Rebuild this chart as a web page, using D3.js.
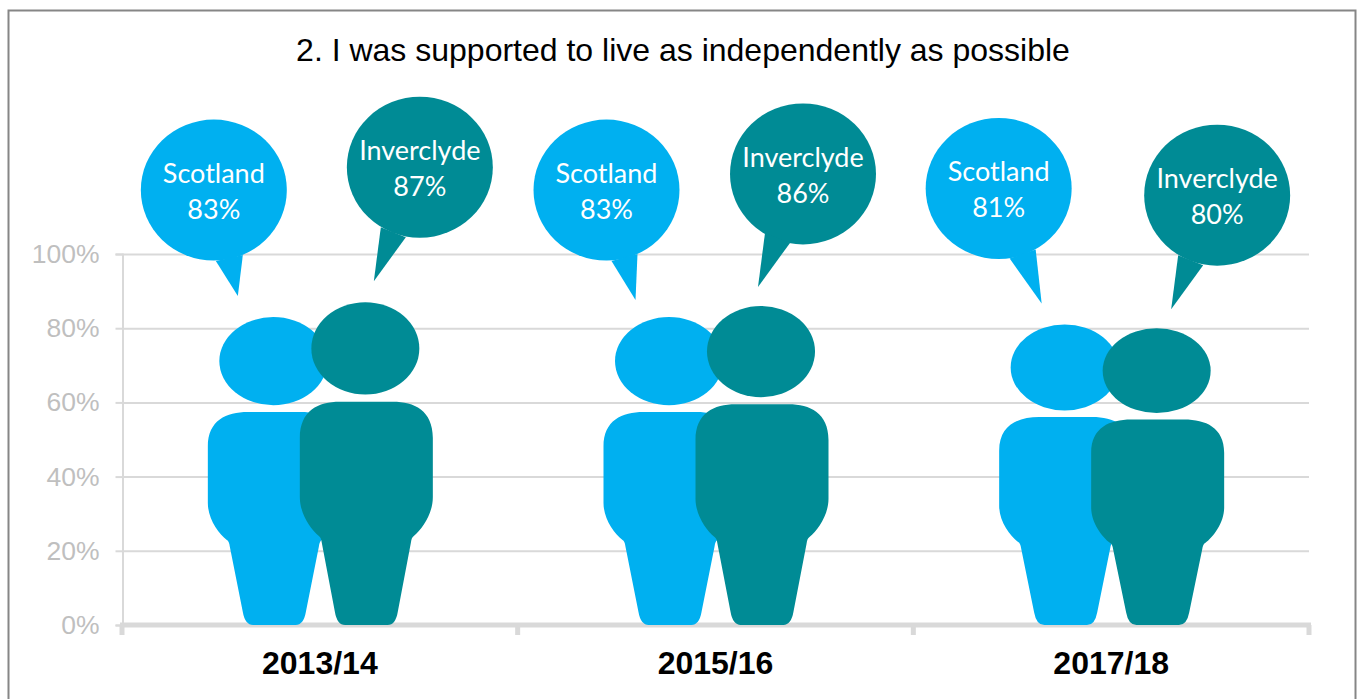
<!DOCTYPE html>
<html>
<head>
<meta charset="utf-8">
<script src="https://cdn.jsdelivr.net/npm/d3@7/dist/d3.min.js"></script>
<style>
  html, body { margin: 0; padding: 0; background: #fff; overflow: hidden; }
  svg { display: block; }
  text { font-family: "Liberation Sans", Arial, sans-serif; }
  .bubble-label { font-family: "Lato", sans-serif; fill: #fff; font-size: 27px; text-anchor: middle; }
</style>
</head>
<body>
<svg id="chart" width="1359" height="699"></svg>
<script>
// Survey results by period
const title = "2. I was supported to live as independently as possible";
const years = ["2013/14", "2015/16", "2017/18"];
const seriesNames = ["Scotland", "Inverclyde"];
const scotland = [83, 83, 81];
const inverclyde = [87, 86, 80];
const yTicks = [0, 20, 40, 60, 80, 100];

const colours = { Scotland: "#00B0F0", Inverclyde: "#008B95" };
const gridColour = "#d9d9d9";

// Frame and plot area
const plot = { left: 122, right: 1309, top: 254, bottom: 625 };
const figureHalfWidth = 66.5;
const figureOffset = 46;

const x = d3.scaleBand().domain(years).range([plot.left, plot.right]);
const y = d3.scaleLinear().domain([0, 100]).range([plot.bottom, plot.top]);
const side = d3.scaleOrdinal().domain(seriesNames).range([-figureOffset, figureOffset]);

const svg = d3.select("#chart");

svg.append("rect")
  .attr("x", 8.5).attr("y", 10.5).attr("width", 1347).attr("height", 720)
  .attr("fill", "#fff").attr("stroke", "#868686").attr("stroke-width", 2);

svg.append("text")
  .attr("x", 683).attr("y", 61)
  .attr("text-anchor", "middle").attr("font-size", 32).attr("fill", "#000")
  .text(title);

// Value axis with gridlines running across the plot
const yAxis = svg.append("g")
  .attr("transform", `translate(${plot.left + 0.5},0)`)
  .call(d3.axisLeft(y).tickValues(yTicks).tickFormat(d => d + "%").tickSize(7).tickPadding(16));
yAxis.selectAll("line").attr("stroke", gridColour).attr("stroke-width", 2);
yAxis.select(".domain").attr("stroke", gridColour).attr("stroke-width", 2);
yAxis.selectAll("text")
  .attr("fill", "#bfbfbf").attr("font-size", 26.5)
  .style("font-family", '"Liberation Sans", Arial, sans-serif');

svg.append("g").selectAll("line")
  .data(yTicks.filter(d => d > 0))
  .join("line")
  .attr("x1", plot.left).attr("x2", plot.right)
  .attr("y1", d => y(d) + 0.5).attr("y2", d => y(d) + 0.5)
  .attr("stroke", gridColour).attr("stroke-width", 2);

// Category axis: heavy baseline, ticks on the band edges
const edges = years.map(d => x(d)).concat(plot.right);
svg.append("line")
  .attr("x1", plot.left - 2).attr("x2", plot.right + 2)
  .attr("y1", y(0)).attr("y2", y(0))
  .attr("stroke", gridColour).attr("stroke-width", 5);
svg.append("g").selectAll("line")
  .data(edges)
  .join("line")
  .attr("x1", d => d).attr("x2", d => d)
  .attr("y1", y(0)).attr("y2", y(0) + 10)
  .attr("stroke", gridColour).attr("stroke-width", 5);

const xAxis = svg.append("g")
  .attr("transform", `translate(0,${plot.bottom})`)
  .call(d3.axisBottom(x).tickSize(0).tickPadding(26));
xAxis.select(".domain").remove();
xAxis.selectAll("text")
  .attr("fill", "#000").attr("font-size", 32).attr("font-weight", "bold")
  .style("font-family", '"Liberation Sans", Arial, sans-serif');

// One standing figure; its height follows the value, its width is fixed.
// u runs from -1 to 1 across the shoulders, t from 0 (crown) to 1 (feet).
function figurePath(cx, value) {
  const u = d3.scaleLinear().domain([-1, 1]).range([cx - figureHalfWidth, cx + figureHalfWidth]);
  const t = d3.scaleLinear().domain([0, 1]).range([y(value), y(0)]);
  const p = d3.path();
  p.moveTo(u(-0.4), t(0.308));
  p.bezierCurveTo(u(-0.72), t(0.308), u(-1), t(0.335), u(-1), t(0.42));
  p.lineTo(u(-1), t(0.604));
  p.bezierCurveTo(u(-1), t(0.655), u(-0.84), t(0.703), u(-0.714), t(0.724));
  p.quadraticCurveTo(u(-0.68), t(0.728), u(-0.67), t(0.745));
  p.lineTo(u(-0.474), t(0.958));
  p.quadraticCurveTo(u(-0.44), t(1), u(-0.32), t(1));
  p.lineTo(u(0.32), t(1));
  p.quadraticCurveTo(u(0.44), t(1), u(0.474), t(0.958));
  p.lineTo(u(0.67), t(0.745));
  p.quadraticCurveTo(u(0.68), t(0.728), u(0.714), t(0.724));
  p.bezierCurveTo(u(0.84), t(0.703), u(1), t(0.655), u(1), t(0.604));
  p.lineTo(u(1), t(0.42));
  p.bezierCurveTo(u(1), t(0.335), u(0.72), t(0.308), u(0.4), t(0.308));
  p.closePath();
  return p.toString();
}

const records = seriesNames.flatMap((name, s) =>
  years.map((year, i) => ({
    name, year, i,
    value: (s === 0 ? scotland : inverclyde)[i],
    cx: x(year) + x.bandwidth() / 2 + side(name) + 0.5
  })));

const figures = svg.append("g").selectAll("g")
  .data(records)
  .join("g")
  .attr("fill", d => colours[d.name]);
figures.append("path").attr("d", d => figurePath(d.cx, d.value));
figures.append("ellipse")
  .attr("cx", d => d.cx - 1)
  .attr("cy", d => y(d.value) + 0.143 * (y(0) - y(d.value)))
  .attr("rx", 54)
  .attr("ry", d => 0.143 * (y(0) - y(d.value)));

// Speech bubbles: offset of each bubble from its figure, tail points relative to the bubble
const bubbleLayout = {
  Scotland: [
    { dx: -60.5, dy: -127, tail: [[2, 71], [24, 106], [29, 65]] },
    { dx: -63.5, dy: -127, tail: [[5, 71], [29, 110], [31, 64]] },
    { dx: -67, dy: -136, tail: [[11, 70], [43, 115], [37, 61]] }
  ],
  Inverclyde: [
    { dx: 53.5, dy: -135, tail: [[-39, 60], [-46, 114], [-14, 70]] },
    { dx: 41, dy: -132, tail: [[-38, 59], [-45, 113], [-13, 69]] },
    { dx: 59.5, dy: -133, tail: [[-39, 60], [-46, 114], [-14, 70]] }
  ]
};

const bubbles = svg.append("g").selectAll("g")
  .data(records)
  .join("g")
  .attr("fill", d => colours[d.name])
  .attr("transform", d => {
    const b = bubbleLayout[d.name][d.i];
    return `translate(${d.cx + b.dx},${y(d.value) + b.dy})`;
  });
bubbles.append("ellipse").attr("rx", 73).attr("ry", 70.5);
bubbles.append("path")
  .attr("d", d => d3.line()(bubbleLayout[d.name][d.i].tail) + "Z");
bubbles.append("text").attr("class", "bubble-label").attr("y", -7).text(d => d.name);
bubbles.append("text").attr("class", "bubble-label").attr("y", 29).text(d => d.value + "%");
</script>
</body>
</html>
